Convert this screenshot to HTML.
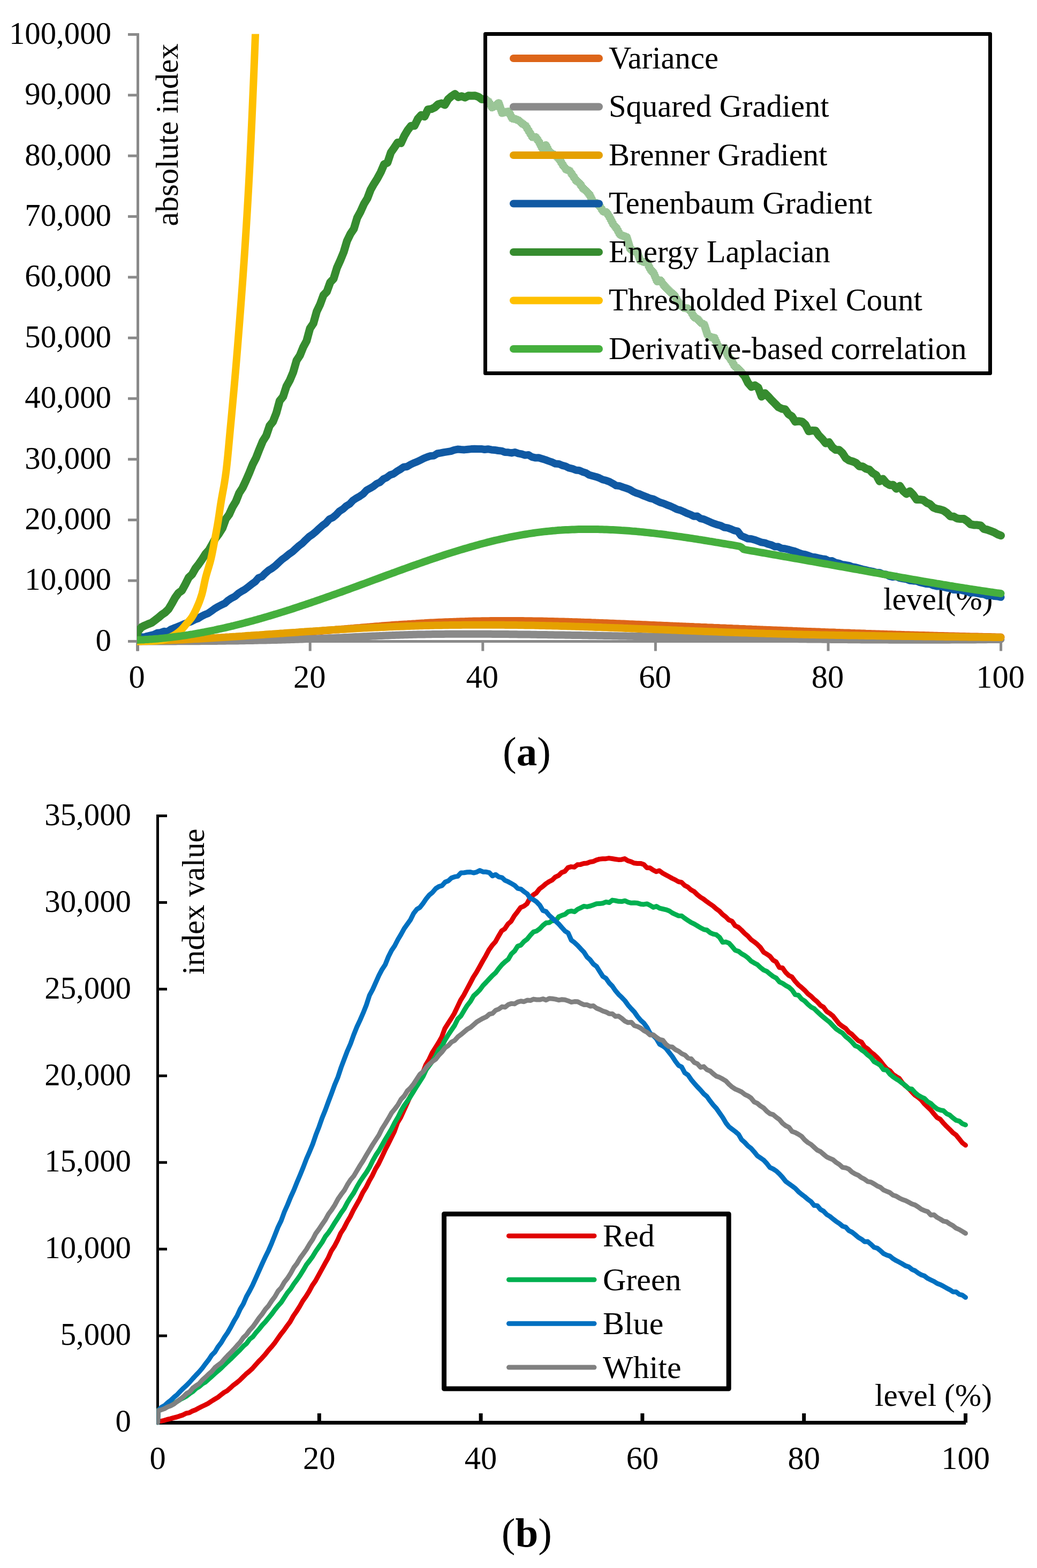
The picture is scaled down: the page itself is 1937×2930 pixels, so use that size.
<!DOCTYPE html><html><head><meta charset="utf-8"><title>Figure</title>
<style>html,body{margin:0;padding:0;background:#fff;overflow:hidden}svg{display:block}</style></head><body>
<svg width="1937" height="2930" viewBox="0 0 1937 2930" font-family="'Liberation Serif', 'Times New Roman', serif">
<rect width="1937" height="2930" fill="#fff"/>
<defs><clipPath id="ca"><rect x="256" y="63.5" width="1680" height="1170"/></clipPath><pattern id="dith" width="2" height="2" patternUnits="userSpaceOnUse"><rect width="1" height="1" fill="#fff" shape-rendering="crispEdges"/><rect x="1" y="1" width="1" height="1" fill="#fff" shape-rendering="crispEdges"/></pattern><clipPath id="cb"><rect x="292.5" y="1480" width="1640" height="1182.7"/></clipPath></defs>
<g stroke="#8A8A8A" stroke-width="5" fill="none">
<path d="M257.5,62 V1216.5"/>
<path d="M255,1198.4 H1872"/>
<path d="M239,64.4 H257.5"/>
<path d="M239,177.8 H257.5"/>
<path d="M239,291.2 H257.5"/>
<path d="M239,404.6 H257.5"/>
<path d="M239,518.0 H257.5"/>
<path d="M239,631.4 H257.5"/>
<path d="M239,744.8 H257.5"/>
<path d="M239,858.2 H257.5"/>
<path d="M239,971.6 H257.5"/>
<path d="M239,1085.0 H257.5"/>
<path d="M239,1198.4 H257.5"/>
<path d="M256.6,1198.4 V1216.5"/>
<path d="M579.2,1198.4 V1216.5"/>
<path d="M901.8,1198.4 V1216.5"/>
<path d="M1224.4,1198.4 V1216.5"/>
<path d="M1547.0,1198.4 V1216.5"/>
<path d="M1869.6,1198.4 V1216.5"/>
</g>
<g font-size="58.8" fill="#000" text-anchor="end">
<text x="208" y="81.7">100,000</text>
<text x="208" y="195.1">90,000</text>
<text x="208" y="308.5">80,000</text>
<text x="208" y="421.9">70,000</text>
<text x="208" y="535.3">60,000</text>
<text x="208" y="648.7">50,000</text>
<text x="208" y="762.1">40,000</text>
<text x="208" y="875.5">30,000</text>
<text x="208" y="988.9">20,000</text>
<text x="208" y="1102.3">10,000</text>
<text x="208" y="1215.7">0</text>
</g>
<g font-size="60.5" fill="#000" text-anchor="middle">
<text x="255.6" y="1285">0</text>
<text x="578.2" y="1285">20</text>
<text x="900.8" y="1285">40</text>
<text x="1223.4" y="1285">60</text>
<text x="1546.0" y="1285">80</text>
<text x="1868.6" y="1285">100</text>
</g>
<text font-size="58.8" transform="translate(331.5,251.9) rotate(-90)" text-anchor="middle">absolute index</text>
<text font-size="59.4" x="1650" y="1138.5">level(%)</text>
<g clip-path="url(#ca)" fill="none" stroke-width="14" stroke-linecap="round" stroke-linejoin="round">
<path stroke="#DD6519" d="M256.0,1198.3 260.0,1198.2 264.0,1198.1 268.0,1198.0 272.0,1197.9 276.0,1197.8 280.0,1197.7 284.0,1197.6 288.0,1197.5 292.0,1197.3 296.0,1197.2 300.0,1197.1 304.0,1197.0 308.0,1196.8 312.1,1196.7 316.1,1196.5 320.1,1196.4 324.1,1196.3 328.1,1196.1 332.1,1195.9 336.1,1195.8 340.1,1195.6 344.1,1195.5 348.1,1195.3 352.1,1195.1 356.1,1194.9 360.1,1194.8 364.1,1194.6 368.1,1194.4 372.1,1194.2 376.1,1194.0 380.1,1193.8 384.1,1193.6 388.1,1193.4 392.1,1193.2 396.1,1193.0 400.1,1192.8 404.1,1192.6 408.1,1192.4 412.1,1192.1 416.1,1191.9 420.2,1191.7 424.2,1191.5 428.2,1191.2 432.2,1191.0 436.2,1190.8 440.2,1190.5 444.2,1190.3 448.2,1190.0 452.2,1189.8 456.2,1189.5 460.2,1189.3 464.2,1189.0 468.2,1188.8 472.2,1188.5 476.2,1188.2 480.2,1188.0 484.2,1187.7 488.2,1187.4 492.2,1187.2 496.2,1186.9 500.2,1186.6 504.2,1186.3 508.2,1186.0 512.2,1185.8 516.2,1185.5 520.2,1185.2 524.2,1184.9 528.3,1184.6 532.3,1184.3 536.3,1184.0 540.3,1183.7 544.3,1183.4 548.3,1183.1 552.3,1182.8 556.3,1182.5 560.3,1182.2 564.3,1181.8 568.3,1181.5 572.3,1181.2 576.3,1180.9 580.3,1180.6 584.3,1180.3 588.3,1179.9 592.3,1179.6 596.3,1179.3 600.3,1178.9 604.3,1178.6 608.3,1178.3 612.3,1177.9 616.3,1177.6 620.3,1177.3 624.3,1176.9 628.3,1176.6 632.3,1176.3 636.4,1175.9 640.4,1175.6 644.4,1175.2 648.4,1174.9 652.4,1174.6 656.4,1174.2 660.4,1173.9 664.4,1173.5 668.4,1173.2 672.4,1172.9 676.4,1172.5 680.4,1172.2 684.4,1171.9 688.4,1171.6 692.4,1171.2 696.4,1170.9 700.4,1170.6 704.4,1170.3 708.4,1170.0 712.4,1169.6 716.4,1169.3 720.4,1169.0 724.4,1168.7 728.4,1168.4 732.4,1168.1 736.4,1167.8 740.5,1167.5 744.5,1167.3 748.5,1167.0 752.5,1166.7 756.5,1166.4 760.5,1166.2 764.5,1165.9 768.5,1165.7 772.5,1165.4 776.5,1165.2 780.5,1164.9 784.5,1164.7 788.5,1164.5 792.5,1164.3 796.5,1164.0 800.5,1163.8 804.5,1163.6 808.5,1163.4 812.5,1163.2 816.5,1163.0 820.5,1162.8 824.5,1162.7 828.5,1162.5 832.5,1162.3 836.5,1162.2 840.5,1162.0 844.5,1161.9 848.6,1161.7 852.6,1161.6 856.6,1161.4 860.6,1161.3 864.6,1161.2 868.6,1161.1 872.6,1160.9 876.6,1160.8 880.6,1160.7 884.6,1160.6 888.6,1160.6 892.6,1160.5 896.6,1160.4 900.6,1160.3 904.6,1160.3 908.6,1160.2 912.6,1160.2 916.6,1160.1 920.6,1160.1 924.6,1160.0 928.6,1160.0 932.6,1160.0 936.6,1160.0 940.6,1160.0 944.6,1160.0 948.6,1160.0 952.6,1160.0 956.7,1160.0 960.7,1160.0 964.7,1160.0 968.7,1160.0 972.7,1160.1 976.7,1160.1 980.7,1160.2 984.7,1160.2 988.7,1160.2 992.7,1160.3 996.7,1160.4 1000.7,1160.4 1004.7,1160.5 1008.7,1160.6 1012.7,1160.6 1016.7,1160.7 1020.7,1160.8 1024.7,1160.9 1028.7,1161.0 1032.7,1161.1 1036.7,1161.2 1040.7,1161.3 1044.7,1161.4 1048.7,1161.5 1052.7,1161.6 1056.7,1161.7 1060.7,1161.8 1064.8,1161.9 1068.8,1162.1 1072.8,1162.2 1076.8,1162.3 1080.8,1162.4 1084.8,1162.6 1088.8,1162.7 1092.8,1162.9 1096.8,1163.0 1100.8,1163.1 1104.8,1163.3 1108.8,1163.4 1112.8,1163.6 1116.8,1163.7 1120.8,1163.9 1124.8,1164.0 1128.8,1164.2 1132.8,1164.3 1136.8,1164.5 1140.8,1164.7 1144.8,1164.8 1148.8,1165.0 1152.8,1165.2 1156.8,1165.3 1160.8,1165.5 1164.8,1165.6 1168.8,1165.8 1172.9,1166.0 1176.9,1166.2 1180.9,1166.3 1184.9,1166.5 1188.9,1166.7 1192.9,1166.8 1196.9,1167.0 1200.9,1167.2 1204.9,1167.3 1208.9,1167.5 1212.9,1167.7 1216.9,1167.9 1220.9,1168.0 1224.9,1168.2 1228.9,1168.4 1232.9,1168.5 1236.9,1168.7 1240.9,1168.9 1244.9,1169.0 1248.9,1169.2 1252.9,1169.4 1256.9,1169.6 1260.9,1169.7 1264.9,1169.9 1268.9,1170.1 1272.9,1170.2 1276.9,1170.4 1281.0,1170.6 1285.0,1170.7 1289.0,1170.9 1293.0,1171.1 1297.0,1171.3 1301.0,1171.4 1305.0,1171.6 1309.0,1171.8 1313.0,1171.9 1317.0,1172.1 1321.0,1172.3 1325.0,1172.4 1329.0,1172.6 1333.0,1172.8 1337.0,1172.9 1341.0,1173.1 1345.0,1173.3 1349.0,1173.4 1353.0,1173.6 1357.0,1173.8 1361.0,1173.9 1365.0,1174.1 1369.0,1174.3 1373.0,1174.4 1377.0,1174.6 1381.0,1174.8 1385.0,1174.9 1389.1,1175.1 1393.1,1175.3 1397.1,1175.4 1401.1,1175.6 1405.1,1175.8 1409.1,1175.9 1413.1,1176.1 1417.1,1176.2 1421.1,1176.4 1425.1,1176.6 1429.1,1176.7 1433.1,1176.9 1437.1,1177.0 1441.1,1177.2 1445.1,1177.4 1449.1,1177.5 1453.1,1177.7 1457.1,1177.8 1461.1,1178.0 1465.1,1178.2 1469.1,1178.3 1473.1,1178.5 1477.1,1178.6 1481.1,1178.8 1485.1,1178.9 1489.1,1179.1 1493.2,1179.2 1497.2,1179.4 1501.2,1179.6 1505.2,1179.7 1509.2,1179.9 1513.2,1180.0 1517.2,1180.2 1521.2,1180.3 1525.2,1180.5 1529.2,1180.6 1533.2,1180.8 1537.2,1180.9 1541.2,1181.1 1545.2,1181.2 1549.2,1181.4 1553.2,1181.5 1557.2,1181.6 1561.2,1181.8 1565.2,1181.9 1569.2,1182.1 1573.2,1182.2 1577.2,1182.4 1581.2,1182.5 1585.2,1182.6 1589.2,1182.8 1593.2,1182.9 1597.2,1183.1 1601.3,1183.2 1605.3,1183.3 1609.3,1183.5 1613.3,1183.6 1617.3,1183.8 1621.3,1183.9 1625.3,1184.0 1629.3,1184.2 1633.3,1184.3 1637.3,1184.4 1641.3,1184.5 1645.3,1184.7 1649.3,1184.8 1653.3,1184.9 1657.3,1185.1 1661.3,1185.2 1665.3,1185.3 1669.3,1185.4 1673.3,1185.6 1677.3,1185.7 1681.3,1185.8 1685.3,1185.9 1689.3,1186.1 1693.3,1186.2 1697.3,1186.3 1701.3,1186.4 1705.3,1186.5 1709.4,1186.7 1713.4,1186.8 1717.4,1186.9 1721.4,1187.0 1725.4,1187.1 1729.4,1187.2 1733.4,1187.3 1737.4,1187.5 1741.4,1187.6 1745.4,1187.7 1749.4,1187.8 1753.4,1187.9 1757.4,1188.0 1761.4,1188.1 1765.4,1188.2 1769.4,1188.3 1773.4,1188.4 1777.4,1188.5 1781.4,1188.6 1785.4,1188.7 1789.4,1188.8 1793.4,1188.9 1797.4,1189.0 1801.4,1189.1 1805.4,1189.2 1809.4,1189.3 1813.4,1189.4 1817.5,1189.5 1821.5,1189.5 1825.5,1189.6 1829.5,1189.7 1833.5,1189.8 1837.5,1189.9 1841.5,1190.0 1845.5,1190.1 1849.5,1190.1 1853.5,1190.2 1857.5,1190.3 1861.5,1190.4 1865.5,1190.5 1869.5,1190.5"/>
<path stroke="#8A8A8A" d="M256.0,1198.4 260.0,1198.4 264.0,1198.4 268.0,1198.4 272.0,1198.4 276.0,1198.4 280.0,1198.4 284.0,1198.4 288.0,1198.4 292.0,1198.4 296.0,1198.4 300.0,1198.4 304.0,1198.4 308.0,1198.4 312.1,1198.4 316.1,1198.4 320.1,1198.4 324.1,1198.4 328.1,1198.4 332.1,1198.3 336.1,1198.3 340.1,1198.3 344.1,1198.3 348.1,1198.3 352.1,1198.3 356.1,1198.2 360.1,1198.2 364.1,1198.2 368.1,1198.2 372.1,1198.2 376.1,1198.1 380.1,1198.1 384.1,1198.1 388.1,1198.0 392.1,1198.0 396.1,1198.0 400.1,1197.9 404.1,1197.9 408.1,1197.8 412.1,1197.8 416.1,1197.7 420.2,1197.7 424.2,1197.6 428.2,1197.6 432.2,1197.5 436.2,1197.5 440.2,1197.4 444.2,1197.4 448.2,1197.3 452.2,1197.2 456.2,1197.2 460.2,1197.1 464.2,1197.0 468.2,1197.0 472.2,1196.9 476.2,1196.8 480.2,1196.7 484.2,1196.6 488.2,1196.6 492.2,1196.5 496.2,1196.4 500.2,1196.3 504.2,1196.2 508.2,1196.1 512.2,1196.0 516.2,1195.9 520.2,1195.8 524.2,1195.7 528.3,1195.6 532.3,1195.4 536.3,1195.3 540.3,1195.2 544.3,1195.1 548.3,1195.0 552.3,1194.8 556.3,1194.7 560.3,1194.6 564.3,1194.4 568.3,1194.3 572.3,1194.1 576.3,1194.0 580.3,1193.8 584.3,1193.7 588.3,1193.5 592.3,1193.4 596.3,1193.2 600.3,1193.0 604.3,1192.9 608.3,1192.7 612.3,1192.5 616.3,1192.3 620.3,1192.2 624.3,1192.0 628.3,1191.8 632.3,1191.6 636.4,1191.4 640.4,1191.2 644.4,1191.0 648.4,1190.9 652.4,1190.7 656.4,1190.5 660.4,1190.3 664.4,1190.1 668.4,1189.9 672.4,1189.7 676.4,1189.5 680.4,1189.3 684.4,1189.2 688.4,1189.0 692.4,1188.8 696.4,1188.6 700.4,1188.4 704.4,1188.2 708.4,1188.1 712.4,1187.9 716.4,1187.7 720.4,1187.6 724.4,1187.4 728.4,1187.2 732.4,1187.1 736.4,1186.9 740.5,1186.8 744.5,1186.7 748.5,1186.5 752.5,1186.4 756.5,1186.3 760.5,1186.2 764.5,1186.0 768.5,1185.9 772.5,1185.8 776.5,1185.7 780.5,1185.6 784.5,1185.5 788.5,1185.5 792.5,1185.4 796.5,1185.3 800.5,1185.2 804.5,1185.2 808.5,1185.1 812.5,1185.1 816.5,1185.0 820.5,1185.0 824.5,1184.9 828.5,1184.9 832.5,1184.8 836.5,1184.8 840.5,1184.8 844.5,1184.7 848.6,1184.7 852.6,1184.7 856.6,1184.7 860.6,1184.7 864.6,1184.7 868.6,1184.7 872.6,1184.7 876.6,1184.7 880.6,1184.7 884.6,1184.7 888.6,1184.7 892.6,1184.7 896.6,1184.7 900.6,1184.7 904.6,1184.8 908.6,1184.8 912.6,1184.8 916.6,1184.8 920.6,1184.9 924.6,1184.9 928.6,1184.9 932.6,1185.0 936.6,1185.0 940.6,1185.0 944.6,1185.1 948.6,1185.1 952.6,1185.2 956.7,1185.2 960.7,1185.3 964.7,1185.3 968.7,1185.4 972.7,1185.4 976.7,1185.5 980.7,1185.5 984.7,1185.6 988.7,1185.6 992.7,1185.7 996.7,1185.8 1000.7,1185.8 1004.7,1185.9 1008.7,1185.9 1012.7,1186.0 1016.7,1186.0 1020.7,1186.1 1024.7,1186.2 1028.7,1186.2 1032.7,1186.3 1036.7,1186.4 1040.7,1186.4 1044.7,1186.5 1048.7,1186.5 1052.7,1186.6 1056.7,1186.7 1060.7,1186.7 1064.8,1186.8 1068.8,1186.9 1072.8,1186.9 1076.8,1187.0 1080.8,1187.1 1084.8,1187.1 1088.8,1187.2 1092.8,1187.3 1096.8,1187.3 1100.8,1187.4 1104.8,1187.5 1108.8,1187.6 1112.8,1187.6 1116.8,1187.7 1120.8,1187.8 1124.8,1187.8 1128.8,1187.9 1132.8,1188.0 1136.8,1188.0 1140.8,1188.1 1144.8,1188.2 1148.8,1188.3 1152.8,1188.3 1156.8,1188.4 1160.8,1188.5 1164.8,1188.6 1168.8,1188.6 1172.9,1188.7 1176.9,1188.8 1180.9,1188.8 1184.9,1188.9 1188.9,1189.0 1192.9,1189.1 1196.9,1189.1 1200.9,1189.2 1204.9,1189.3 1208.9,1189.4 1212.9,1189.4 1216.9,1189.5 1220.9,1189.6 1224.9,1189.7 1228.9,1189.7 1232.9,1189.8 1236.9,1189.9 1240.9,1190.0 1244.9,1190.0 1248.9,1190.1 1252.9,1190.2 1256.9,1190.2 1260.9,1190.3 1264.9,1190.4 1268.9,1190.5 1272.9,1190.5 1276.9,1190.6 1281.0,1190.7 1285.0,1190.8 1289.0,1190.8 1293.0,1190.9 1297.0,1191.0 1301.0,1191.1 1305.0,1191.1 1309.0,1191.2 1313.0,1191.3 1317.0,1191.3 1321.0,1191.4 1325.0,1191.5 1329.0,1191.6 1333.0,1191.6 1337.0,1191.7 1341.0,1191.8 1345.0,1191.8 1349.0,1191.9 1353.0,1192.0 1357.0,1192.1 1361.0,1192.1 1365.0,1192.2 1369.0,1192.3 1373.0,1192.3 1377.0,1192.4 1381.0,1192.5 1385.0,1192.5 1389.1,1192.6 1393.1,1192.7 1397.1,1192.7 1401.1,1192.8 1405.1,1192.9 1409.1,1192.9 1413.1,1193.0 1417.1,1193.0 1421.1,1193.1 1425.1,1193.2 1429.1,1193.2 1433.1,1193.3 1437.1,1193.4 1441.1,1193.4 1445.1,1193.5 1449.1,1193.5 1453.1,1193.6 1457.1,1193.7 1461.1,1193.7 1465.1,1193.8 1469.1,1193.8 1473.1,1193.9 1477.1,1193.9 1481.1,1194.0 1485.1,1194.0 1489.1,1194.1 1493.2,1194.2 1497.2,1194.2 1501.2,1194.3 1505.2,1194.3 1509.2,1194.4 1513.2,1194.4 1517.2,1194.5 1521.2,1194.5 1525.2,1194.6 1529.2,1194.6 1533.2,1194.6 1537.2,1194.7 1541.2,1194.7 1545.2,1194.8 1549.2,1194.8 1553.2,1194.9 1557.2,1194.9 1561.2,1194.9 1565.2,1195.0 1569.2,1195.0 1573.2,1195.1 1577.2,1195.1 1581.2,1195.1 1585.2,1195.2 1589.2,1195.2 1593.2,1195.2 1597.2,1195.3 1601.3,1195.3 1605.3,1195.3 1609.3,1195.4 1613.3,1195.4 1617.3,1195.4 1621.3,1195.4 1625.3,1195.5 1629.3,1195.5 1633.3,1195.5 1637.3,1195.5 1641.3,1195.6 1645.3,1195.6 1649.3,1195.6 1653.3,1195.6 1657.3,1195.6 1661.3,1195.7 1665.3,1195.7 1669.3,1195.7 1673.3,1195.7 1677.3,1195.7 1681.3,1195.7 1685.3,1195.7 1689.3,1195.7 1693.3,1195.8 1697.3,1195.8 1701.3,1195.8 1705.3,1195.8 1709.4,1195.8 1713.4,1195.8 1717.4,1195.8 1721.4,1195.8 1725.4,1195.8 1729.4,1195.8 1733.4,1195.8 1737.4,1195.8 1741.4,1195.8 1745.4,1195.8 1749.4,1195.7 1753.4,1195.7 1757.4,1195.7 1761.4,1195.7 1765.4,1195.7 1769.4,1195.7 1773.4,1195.7 1777.4,1195.6 1781.4,1195.6 1785.4,1195.6 1789.4,1195.6 1793.4,1195.6 1797.4,1195.5 1801.4,1195.5 1805.4,1195.5 1809.4,1195.4 1813.4,1195.4 1817.5,1195.4 1821.5,1195.4 1825.5,1195.3 1829.5,1195.3 1833.5,1195.2 1837.5,1195.2 1841.5,1195.2 1845.5,1195.1 1849.5,1195.1 1853.5,1195.0 1857.5,1195.0 1861.5,1194.9 1865.5,1194.9 1869.5,1194.8"/>
<path stroke="#E5A000" d="M256.0,1198.4 260.0,1198.3 264.0,1198.2 268.0,1198.1 272.0,1198.0 276.0,1197.9 280.0,1197.8 284.0,1197.7 288.0,1197.5 292.0,1197.4 296.0,1197.3 300.0,1197.1 304.0,1197.0 308.0,1196.8 312.1,1196.6 316.1,1196.5 320.1,1196.3 324.1,1196.1 328.1,1195.9 332.1,1195.7 336.1,1195.6 340.1,1195.4 344.1,1195.2 348.1,1195.0 352.1,1194.8 356.1,1194.6 360.1,1194.3 364.1,1194.1 368.1,1193.9 372.1,1193.7 376.1,1193.5 380.1,1193.2 384.1,1193.0 388.1,1192.8 392.1,1192.5 396.1,1192.3 400.1,1192.0 404.1,1191.8 408.1,1191.5 412.1,1191.3 416.1,1191.0 420.2,1190.8 424.2,1190.5 428.2,1190.3 432.2,1190.0 436.2,1189.7 440.2,1189.5 444.2,1189.2 448.2,1188.9 452.2,1188.7 456.2,1188.4 460.2,1188.1 464.2,1187.8 468.2,1187.6 472.2,1187.3 476.2,1187.0 480.2,1186.7 484.2,1186.5 488.2,1186.2 492.2,1185.9 496.2,1185.6 500.2,1185.3 504.2,1185.0 508.2,1184.8 512.2,1184.5 516.2,1184.2 520.2,1183.9 524.2,1183.6 528.3,1183.4 532.3,1183.1 536.3,1182.8 540.3,1182.5 544.3,1182.2 548.3,1181.9 552.3,1181.7 556.3,1181.4 560.3,1181.1 564.3,1180.8 568.3,1180.6 572.3,1180.3 576.3,1180.0 580.3,1179.7 584.3,1179.5 588.3,1179.2 592.3,1178.9 596.3,1178.7 600.3,1178.4 604.3,1178.1 608.3,1177.9 612.3,1177.6 616.3,1177.4 620.3,1177.1 624.3,1176.9 628.3,1176.6 632.3,1176.4 636.4,1176.1 640.4,1175.9 644.4,1175.7 648.4,1175.4 652.4,1175.2 656.4,1175.0 660.4,1174.7 664.4,1174.5 668.4,1174.3 672.4,1174.1 676.4,1173.8 680.4,1173.6 684.4,1173.4 688.4,1173.2 692.4,1173.0 696.4,1172.8 700.4,1172.6 704.4,1172.4 708.4,1172.2 712.4,1172.0 716.4,1171.9 720.4,1171.7 724.4,1171.5 728.4,1171.3 732.4,1171.2 736.4,1171.0 740.5,1170.8 744.5,1170.7 748.5,1170.5 752.5,1170.4 756.5,1170.2 760.5,1170.1 764.5,1170.0 768.5,1169.8 772.5,1169.7 776.5,1169.6 780.5,1169.4 784.5,1169.3 788.5,1169.2 792.5,1169.1 796.5,1169.0 800.5,1168.9 804.5,1168.8 808.5,1168.7 812.5,1168.6 816.5,1168.5 820.5,1168.5 824.5,1168.4 828.5,1168.3 832.5,1168.2 836.5,1168.2 840.5,1168.1 844.5,1168.1 848.6,1168.0 852.6,1168.0 856.6,1167.9 860.6,1167.9 864.6,1167.8 868.6,1167.8 872.6,1167.8 876.6,1167.8 880.6,1167.7 884.6,1167.7 888.6,1167.7 892.6,1167.7 896.6,1167.7 900.6,1167.7 904.6,1167.7 908.6,1167.7 912.6,1167.7 916.6,1167.7 920.6,1167.7 924.6,1167.7 928.6,1167.8 932.6,1167.8 936.6,1167.8 940.6,1167.8 944.6,1167.9 948.6,1167.9 952.6,1168.0 956.7,1168.0 960.7,1168.1 964.7,1168.1 968.7,1168.2 972.7,1168.2 976.7,1168.3 980.7,1168.4 984.7,1168.4 988.7,1168.5 992.7,1168.6 996.7,1168.6 1000.7,1168.7 1004.7,1168.8 1008.7,1168.9 1012.7,1169.0 1016.7,1169.1 1020.7,1169.2 1024.7,1169.2 1028.7,1169.3 1032.7,1169.4 1036.7,1169.5 1040.7,1169.6 1044.7,1169.8 1048.7,1169.9 1052.7,1170.0 1056.7,1170.1 1060.7,1170.2 1064.8,1170.3 1068.8,1170.4 1072.8,1170.6 1076.8,1170.7 1080.8,1170.8 1084.8,1170.9 1088.8,1171.1 1092.8,1171.2 1096.8,1171.3 1100.8,1171.5 1104.8,1171.6 1108.8,1171.7 1112.8,1171.9 1116.8,1172.0 1120.8,1172.1 1124.8,1172.3 1128.8,1172.4 1132.8,1172.6 1136.8,1172.7 1140.8,1172.9 1144.8,1173.0 1148.8,1173.2 1152.8,1173.3 1156.8,1173.5 1160.8,1173.6 1164.8,1173.8 1168.8,1173.9 1172.9,1174.1 1176.9,1174.2 1180.9,1174.4 1184.9,1174.6 1188.9,1174.7 1192.9,1174.9 1196.9,1175.0 1200.9,1175.2 1204.9,1175.3 1208.9,1175.5 1212.9,1175.7 1216.9,1175.8 1220.9,1176.0 1224.9,1176.2 1228.9,1176.3 1232.9,1176.5 1236.9,1176.6 1240.9,1176.8 1244.9,1177.0 1248.9,1177.1 1252.9,1177.3 1256.9,1177.5 1260.9,1177.6 1264.9,1177.8 1268.9,1177.9 1272.9,1178.1 1276.9,1178.3 1281.0,1178.4 1285.0,1178.6 1289.0,1178.8 1293.0,1178.9 1297.0,1179.1 1301.0,1179.2 1305.0,1179.4 1309.0,1179.5 1313.0,1179.7 1317.0,1179.9 1321.0,1180.0 1325.0,1180.2 1329.0,1180.3 1333.0,1180.5 1337.0,1180.6 1341.0,1180.8 1345.0,1180.9 1349.0,1181.1 1353.0,1181.2 1357.0,1181.4 1361.0,1181.5 1365.0,1181.7 1369.0,1181.8 1373.0,1181.9 1377.0,1182.1 1381.0,1182.2 1385.0,1182.4 1389.1,1182.5 1393.1,1182.6 1397.1,1182.8 1401.1,1182.9 1405.1,1183.0 1409.1,1183.2 1413.1,1183.3 1417.1,1183.4 1421.1,1183.5 1425.1,1183.6 1429.1,1183.8 1433.1,1183.9 1437.1,1184.0 1441.1,1184.1 1445.1,1184.2 1449.1,1184.3 1453.1,1184.5 1457.1,1184.6 1461.1,1184.7 1465.1,1184.8 1469.1,1184.9 1473.1,1185.0 1477.1,1185.1 1481.1,1185.2 1485.1,1185.3 1489.1,1185.4 1493.2,1185.5 1497.2,1185.6 1501.2,1185.7 1505.2,1185.8 1509.2,1185.8 1513.2,1185.9 1517.2,1186.0 1521.2,1186.1 1525.2,1186.2 1529.2,1186.3 1533.2,1186.4 1537.2,1186.4 1541.2,1186.5 1545.2,1186.6 1549.2,1186.7 1553.2,1186.8 1557.2,1186.8 1561.2,1186.9 1565.2,1187.0 1569.2,1187.1 1573.2,1187.1 1577.2,1187.2 1581.2,1187.3 1585.2,1187.4 1589.2,1187.4 1593.2,1187.5 1597.2,1187.6 1601.3,1187.6 1605.3,1187.7 1609.3,1187.8 1613.3,1187.8 1617.3,1187.9 1621.3,1188.0 1625.3,1188.0 1629.3,1188.1 1633.3,1188.1 1637.3,1188.2 1641.3,1188.3 1645.3,1188.3 1649.3,1188.4 1653.3,1188.4 1657.3,1188.5 1661.3,1188.6 1665.3,1188.6 1669.3,1188.7 1673.3,1188.7 1677.3,1188.8 1681.3,1188.8 1685.3,1188.9 1689.3,1188.9 1693.3,1189.0 1697.3,1189.0 1701.3,1189.1 1705.3,1189.1 1709.4,1189.2 1713.4,1189.2 1717.4,1189.3 1721.4,1189.3 1725.4,1189.4 1729.4,1189.4 1733.4,1189.5 1737.4,1189.5 1741.4,1189.6 1745.4,1189.6 1749.4,1189.7 1753.4,1189.7 1757.4,1189.8 1761.4,1189.8 1765.4,1189.9 1769.4,1189.9 1773.4,1190.0 1777.4,1190.0 1781.4,1190.1 1785.4,1190.1 1789.4,1190.1 1793.4,1190.2 1797.4,1190.2 1801.4,1190.3 1805.4,1190.3 1809.4,1190.4 1813.4,1190.4 1817.5,1190.5 1821.5,1190.5 1825.5,1190.6 1829.5,1190.6 1833.5,1190.7 1837.5,1190.7 1841.5,1190.7 1845.5,1190.8 1849.5,1190.8 1853.5,1190.9 1857.5,1190.9 1861.5,1191.0 1865.5,1191.0 1869.5,1191.1"/>
<path stroke="#1059A3" stroke-width="14" d="M256.0,1192.9 262.3,1190.0 268.6,1190.8 274.9,1188.7 281.2,1187.2 287.5,1185.8 293.8,1182.7 300.1,1182.1 306.4,1179.7 312.7,1180.6 319.0,1176.3 325.3,1173.6 331.6,1171.3 337.9,1168.6 344.2,1165.8 350.5,1163.6 356.8,1161.5 363.1,1158.2 369.4,1156.0 375.8,1152.0 382.1,1148.8 388.4,1146.3 394.7,1141.9 401.0,1137.3 407.3,1133.7 413.6,1130.3 419.9,1127.4 426.2,1121.8 432.5,1117.7 438.8,1114.5 445.1,1108.9 451.4,1104.9 457.7,1101.3 464.0,1096.5 470.3,1091.5 476.6,1087.1 482.9,1079.8 489.2,1077.6 495.5,1071.2 501.8,1065.7 508.1,1061.9 514.4,1057.1 520.7,1051.1 527.0,1045.4 533.3,1040.9 539.6,1035.6 545.9,1031.3 552.2,1025.5 558.5,1019.8 564.8,1015.1 571.1,1008.8 577.4,1002.9 583.7,998.6 590.0,993.3 596.3,987.4 602.7,981.7 609.0,977.2 615.3,970.0 621.6,967.1 627.9,961.8 634.2,955.2 640.5,951.3 646.8,945.5 653.1,941.8 659.4,935.0 665.7,930.9 672.0,927.3 678.3,923.0 684.6,916.1 690.9,912.7 697.2,908.9 703.5,903.9 709.8,901.3 716.1,895.2 722.4,892.3 728.7,887.5 735.0,885.5 741.3,880.8 747.6,877.1 753.9,872.8 760.2,872.0 766.5,868.3 772.8,865.3 779.1,862.8 785.4,859.7 791.7,856.5 798.0,854.0 804.3,851.9 810.6,851.4 816.9,847.5 823.2,846.4 829.5,845.1 835.9,844.1 842.2,843.1 848.5,840.8 854.8,839.6 861.1,840.1 867.4,840.4 873.7,839.7 880.0,839.1 886.3,838.7 892.6,839.1 898.9,838.9 905.2,840.0 911.5,839.2 917.8,840.4 924.1,840.9 930.4,842.0 936.7,842.6 943.0,845.1 949.3,845.3 955.6,846.4 961.9,845.0 968.2,847.4 974.5,848.5 980.8,850.6 987.1,850.0 993.4,853.9 999.7,855.4 1006.0,855.3 1012.3,857.2 1018.6,859.1 1024.9,861.5 1031.2,863.7 1037.5,866.6 1043.8,866.9 1050.1,869.6 1056.4,871.2 1062.8,874.4 1069.1,875.8 1075.4,878.4 1081.7,878.9 1088.0,881.7 1094.3,883.6 1100.6,887.5 1106.9,889.2 1113.2,890.9 1119.5,893.2 1125.8,896.2 1132.1,897.8 1138.4,900.1 1144.7,903.6 1151.0,907.4 1157.3,908.0 1163.6,910.3 1169.9,912.4 1176.2,914.8 1182.5,918.6 1188.8,921.4 1195.1,923.3 1201.4,926.1 1207.7,928.5 1214.0,931.1 1220.3,932.5 1226.6,935.7 1232.9,938.7 1239.2,940.6 1245.5,943.3 1251.8,945.6 1258.1,948.5 1264.4,951.8 1270.7,953.4 1277.0,956.1 1283.3,959.2 1289.6,961.5 1296.0,964.7 1302.3,964.5 1308.6,968.9 1314.9,970.3 1321.2,973.1 1327.5,975.9 1333.8,978.4 1340.1,980.6 1346.4,982.3 1352.7,985.5 1359.0,986.4 1365.3,988.6 1371.6,991.4 1377.9,992.6 1384.2,1001.1 1390.5,1003.7 1396.8,1006.6 1403.1,1007.0 1409.4,1008.7 1415.7,1011.0 1422.0,1013.3 1428.3,1014.3 1434.6,1016.8 1440.9,1018.4 1447.2,1021.4 1453.5,1021.6 1459.8,1024.6 1466.1,1025.2 1472.4,1026.7 1478.7,1028.7 1485.0,1030.1 1491.3,1032.7 1497.6,1035.1 1503.9,1036.2 1510.2,1038.2 1516.5,1040.6 1522.8,1041.3 1529.2,1042.9 1535.5,1044.2 1541.8,1045.0 1548.1,1048.3 1554.4,1048.1 1560.7,1051.5 1567.0,1052.6 1573.3,1055.0 1579.6,1055.8 1585.9,1056.9 1592.2,1059.3 1598.5,1060.2 1604.8,1062.0 1611.1,1063.8 1617.4,1065.2 1623.7,1066.7 1630.0,1067.8 1636.3,1069.7 1642.6,1069.9 1648.9,1072.7 1655.2,1073.5 1661.5,1076.6 1667.8,1078.1 1674.1,1077.3 1680.4,1080.2 1686.7,1081.4 1693.0,1082.2 1699.3,1084.7 1705.6,1085.4 1711.9,1085.8 1718.2,1088.2 1724.5,1089.6 1730.8,1091.1 1737.1,1091.4 1743.4,1094.0 1749.7,1095.4 1756.1,1095.3 1762.4,1096.9 1768.7,1098.5 1775.0,1099.3 1781.3,1102.1 1787.6,1102.2 1793.9,1102.5 1800.2,1103.8 1806.5,1105.4 1812.8,1108.1 1819.1,1107.4 1825.4,1108.7 1831.7,1110.0 1838.0,1110.6 1844.3,1113.2 1850.6,1112.2 1856.9,1114.0 1863.2,1114.5 1869.5,1115.8"/>
<path stroke="#368C2F" stroke-width="15" d="M256.0,1189.0 257.0,1180.0 258.0,1179.4 264.3,1172.0 270.6,1168.8 276.9,1166.1 283.2,1163.8 289.5,1159.1 295.8,1154.2 302.1,1148.8 308.4,1144.5 314.7,1138.4 320.9,1128.0 327.2,1116.7 333.5,1108.0 339.8,1103.4 346.1,1091.9 352.4,1079.3 358.7,1073.4 365.0,1062.2 371.3,1054.1 377.6,1045.0 383.9,1035.1 390.2,1028.1 396.5,1016.8 402.8,1005.4 409.1,997.1 415.4,987.1 421.7,969.9 428.0,961.4 434.3,947.5 440.6,937.0 446.8,921.3 453.1,911.5 459.4,898.0 465.7,883.6 472.0,867.7 478.3,855.5 484.6,839.3 490.9,824.2 497.2,814.3 503.5,795.8 509.8,788.0 516.1,772.1 522.4,749.0 528.7,741.3 535.0,722.0 541.3,710.7 547.6,695.6 553.9,673.7 560.2,664.1 566.5,648.5 572.7,637.0 579.0,613.7 585.3,604.4 591.6,581.9 597.9,568.8 604.2,551.5 610.5,545.0 616.8,527.6 623.1,520.9 629.4,500.4 635.7,486.4 642.0,471.0 648.3,449.9 654.6,436.9 660.9,427.8 667.2,406.8 673.5,395.3 679.8,381.2 686.1,370.9 692.3,354.5 698.6,343.4 704.9,333.4 711.2,321.7 717.5,307.0 723.8,304.0 730.1,285.0 736.4,275.9 742.7,266.5 749.0,267.4 755.3,253.6 761.6,243.2 767.9,235.2 774.2,235.0 780.5,222.1 786.8,215.1 793.1,217.7 799.4,204.6 805.7,203.7 812.0,200.7 818.2,194.9 824.5,193.1 830.8,196.1 837.1,185.4 843.4,179.9 849.7,175.6 856.0,181.4 862.3,179.8 868.6,182.1 874.9,178.8 881.2,179.1 887.5,178.8 893.8,181.0 900.1,185.6 906.4,185.3 912.7,190.0 919.0,200.8 925.3,197.9 931.6,192.6 937.9,211.1 944.1,209.4 950.4,208.4 956.7,221.4 963.0,222.7 969.3,225.4 975.6,230.9 981.9,235.2 988.2,245.6 994.5,256.0 1000.8,256.2 1007.1,265.6 1013.4,278.1 1019.7,271.3 1026.0,283.9 1032.3,287.8 1038.6,291.0 1044.9,297.6 1051.2,308.2 1057.5,316.5 1063.8,319.1 1070.0,328.1 1076.3,337.5 1082.6,342.5 1088.9,351.7 1095.2,357.1 1101.5,364.3 1107.8,377.0 1114.1,379.5 1120.4,385.2 1126.7,395.2 1133.0,396.6 1139.3,406.9 1145.6,419.4 1151.9,426.9 1158.2,438.6 1164.5,440.8 1170.8,443.3 1177.1,464.6 1183.4,469.5 1189.6,469.4 1195.9,486.7 1202.2,489.5 1208.5,490.4 1214.8,503.3 1221.1,510.5 1227.4,525.7 1233.7,524.1 1240.0,533.0 1246.3,539.8 1252.6,546.1 1258.9,550.7 1265.2,561.3 1271.5,570.7 1277.8,575.4 1284.1,576.2 1290.4,581.8 1296.7,592.7 1303.0,596.3 1309.3,603.2 1315.5,606.5 1321.8,626.2 1328.1,630.1 1334.4,631.3 1340.7,645.5 1347.0,654.9 1353.3,650.4 1359.6,664.5 1365.9,672.9 1372.2,684.1 1378.5,689.0 1384.8,695.8 1391.1,703.2 1397.4,715.8 1403.7,722.9 1410.0,720.1 1416.3,724.3 1422.6,741.1 1428.9,734.7 1435.2,741.0 1441.4,747.9 1447.7,754.2 1454.0,760.8 1460.3,763.8 1466.6,764.9 1472.9,774.0 1479.2,778.1 1485.5,787.9 1491.8,787.0 1498.1,787.9 1504.4,793.6 1510.7,805.8 1517.0,804.6 1523.3,804.7 1529.6,813.9 1535.9,820.2 1542.2,828.2 1548.5,826.4 1554.8,835.8 1561.0,840.6 1567.3,840.7 1573.6,846.5 1579.9,856.3 1586.2,860.4 1592.5,862.2 1598.8,864.9 1605.1,871.2 1611.4,871.8 1617.7,875.9 1624.0,877.8 1630.3,884.1 1636.6,887.7 1642.9,899.2 1649.2,895.0 1655.5,902.6 1661.8,906.4 1668.1,906.1 1674.4,913.2 1680.7,908.0 1686.9,917.4 1693.2,922.9 1699.5,917.9 1705.8,924.5 1712.1,933.4 1718.4,933.4 1724.7,934.5 1731.0,939.5 1737.3,942.2 1743.6,948.5 1749.9,950.9 1756.2,952.1 1762.5,954.1 1768.8,958.5 1775.1,964.8 1781.4,965.3 1787.7,968.8 1794.0,969.6 1800.3,969.6 1806.6,973.7 1812.8,979.6 1819.1,980.9 1825.4,981.1 1831.7,982.0 1838.0,988.5 1844.3,989.9 1850.6,992.3 1856.9,994.7 1863.2,998.4 1869.5,1000.7"/>
<path stroke="#FFC000" stroke-width="14" d="M256.0,1198.4 257.5,1198.4 259.0,1198.4 260.5,1198.4 262.0,1198.4 263.5,1198.4 265.0,1198.3 266.5,1198.3 268.0,1198.3 269.5,1198.3 271.0,1198.2 272.5,1198.2 274.0,1198.2 275.5,1198.1 277.0,1198.1 278.5,1198.0 280.0,1198.0 281.5,1197.9 283.0,1197.9 284.5,1197.8 286.0,1197.7 287.5,1197.7 289.0,1197.6 290.5,1197.5 292.0,1197.4 293.5,1197.3 295.0,1197.1 296.5,1196.9 298.0,1196.6 299.5,1196.4 301.0,1196.0 302.5,1195.7 304.0,1195.3 305.5,1194.9 307.0,1194.5 308.5,1194.0 310.0,1193.6 311.5,1193.2 313.0,1192.7 314.5,1192.2 316.0,1191.6 317.5,1190.9 319.0,1190.2 320.5,1189.5 322.0,1188.7 323.5,1187.9 325.0,1187.1 326.5,1186.2 328.0,1185.3 329.5,1184.3 331.0,1183.2 332.5,1182.1 334.0,1180.9 335.5,1179.7 337.0,1178.4 338.5,1177.0 340.0,1175.5 341.5,1173.8 343.0,1172.1 344.5,1170.4 346.0,1168.6 347.5,1166.8 349.0,1165.0 350.5,1163.3 352.0,1161.6 353.5,1159.8 355.0,1158.0 356.5,1156.1 358.0,1154.0 359.5,1151.7 361.0,1149.2 362.5,1146.4 364.0,1143.5 365.5,1140.4 367.0,1137.1 368.5,1133.7 370.0,1130.3 371.5,1126.6 373.0,1122.7 374.5,1118.5 376.0,1113.9 377.5,1108.9 379.0,1102.8 380.5,1095.8 382.0,1088.5 383.5,1081.7 385.0,1075.8 386.5,1070.5 388.0,1065.5 389.5,1060.6 391.0,1055.6 392.5,1050.3 394.0,1044.4 395.5,1037.7 397.0,1030.3 398.5,1022.5 400.0,1014.6 401.5,1006.7 403.0,998.9 404.5,990.8 406.0,982.4 407.5,973.5 409.0,963.7 410.5,953.4 412.0,943.4 413.5,934.2 415.0,925.8 416.5,917.6 418.0,909.4 419.5,900.6 421.0,890.8 422.5,879.6 424.0,866.4 425.5,851.6 427.0,835.8 428.5,819.4 430.0,803.2 431.5,787.3 433.0,771.3 434.5,755.1 436.0,738.7 437.5,722.1 439.0,705.0 440.5,687.6 442.0,669.7 443.5,651.2 445.0,632.5 446.5,613.6 448.0,594.5 449.5,575.1 451.0,555.3 452.5,535.1 454.0,514.4 455.5,493.0 457.0,471.0 458.5,448.1 460.0,424.5 461.5,399.8 463.0,374.2 464.5,347.2 466.0,318.5 467.5,288.1 469.0,256.2 470.5,223.0 472.0,188.4 473.5,152.7 475.0,116.0 476.5,78.4 478.0,40.0"/>
<path stroke="#45AF3D" d="M256.0,1195.9 260.0,1195.7 264.0,1195.6 268.0,1195.4 272.0,1195.1 276.0,1194.9 280.0,1194.6 284.0,1194.4 288.0,1194.0 292.0,1193.7 296.0,1193.4 300.0,1193.0 304.0,1192.6 308.0,1192.2 312.1,1191.8 316.1,1191.3 320.1,1190.8 324.1,1190.3 328.1,1189.8 332.1,1189.3 336.1,1188.8 340.1,1188.2 344.1,1187.6 348.1,1187.0 352.1,1186.4 356.1,1185.7 360.1,1185.1 364.1,1184.4 368.1,1183.7 372.1,1183.0 376.1,1182.2 380.1,1181.5 384.1,1180.7 388.1,1179.9 392.1,1179.1 396.1,1178.3 400.1,1177.5 404.1,1176.6 408.1,1175.7 412.1,1174.9 416.1,1174.0 420.2,1173.1 424.2,1172.1 428.2,1171.2 432.2,1170.2 436.2,1169.3 440.2,1168.3 444.2,1167.3 448.2,1166.3 452.2,1165.2 456.2,1164.2 460.2,1163.1 464.2,1162.1 468.2,1161.0 472.2,1159.9 476.2,1158.8 480.2,1157.7 484.2,1156.5 488.2,1155.4 492.2,1154.2 496.2,1153.1 500.2,1151.9 504.2,1150.7 508.2,1149.5 512.2,1148.3 516.2,1147.1 520.2,1145.9 524.2,1144.6 528.3,1143.4 532.3,1142.1 536.3,1140.8 540.3,1139.6 544.3,1138.3 548.3,1137.0 552.3,1135.7 556.3,1134.4 560.3,1133.0 564.3,1131.7 568.3,1130.4 572.3,1129.0 576.3,1127.7 580.3,1126.3 584.3,1124.9 588.3,1123.6 592.3,1122.2 596.3,1120.8 600.3,1119.4 604.3,1118.0 608.3,1116.6 612.3,1115.2 616.3,1113.8 620.3,1112.3 624.3,1110.9 628.3,1109.5 632.3,1108.0 636.4,1106.6 640.4,1105.1 644.4,1103.7 648.4,1102.2 652.4,1100.8 656.4,1099.3 660.4,1097.8 664.4,1096.4 668.4,1094.9 672.4,1093.4 676.4,1091.9 680.4,1090.5 684.4,1089.0 688.4,1087.5 692.4,1086.0 696.4,1084.5 700.4,1083.0 704.4,1081.6 708.4,1080.1 712.4,1078.6 716.4,1077.1 720.4,1075.6 724.4,1074.2 728.4,1072.7 732.4,1071.2 736.4,1069.8 740.5,1068.3 744.5,1066.8 748.5,1065.4 752.5,1063.9 756.5,1062.5 760.5,1061.0 764.5,1059.6 768.5,1058.1 772.5,1056.7 776.5,1055.3 780.5,1053.9 784.5,1052.5 788.5,1051.1 792.5,1049.7 796.5,1048.3 800.5,1046.9 804.5,1045.5 808.5,1044.2 812.5,1042.8 816.5,1041.5 820.5,1040.2 824.5,1038.8 828.5,1037.5 832.5,1036.2 836.5,1034.9 840.5,1033.6 844.5,1032.4 848.6,1031.1 852.6,1029.9 856.6,1028.6 860.6,1027.4 864.6,1026.2 868.6,1025.0 872.6,1023.9 876.6,1022.7 880.6,1021.5 884.6,1020.4 888.6,1019.3 892.6,1018.2 896.6,1017.1 900.6,1016.0 904.6,1015.0 908.6,1013.9 912.6,1012.9 916.6,1011.9 920.6,1010.9 924.6,1009.9 928.6,1009.0 932.6,1008.1 936.6,1007.2 940.6,1006.3 944.6,1005.4 948.6,1004.5 952.6,1003.7 956.7,1002.9 960.7,1002.1 964.7,1001.3 968.7,1000.6 972.7,999.9 976.7,999.2 980.7,998.5 984.7,997.8 988.7,997.2 992.7,996.6 996.7,996.0 1000.7,995.4 1004.7,994.9 1008.7,994.4 1012.7,993.9 1016.7,993.4 1020.7,993.0 1024.7,992.6 1028.7,992.2 1032.7,991.8 1036.7,991.5 1040.7,991.1 1044.7,990.8 1048.7,990.6 1052.7,990.3 1056.7,990.1 1060.7,989.9 1064.8,989.7 1068.8,989.5 1072.8,989.4 1076.8,989.2 1080.8,989.1 1084.8,989.1 1088.8,989.0 1092.8,989.0 1096.8,988.9 1100.8,988.9 1104.8,988.9 1108.8,989.0 1112.8,989.0 1116.8,989.1 1120.8,989.2 1124.8,989.3 1128.8,989.4 1132.8,989.5 1136.8,989.7 1140.8,989.9 1144.8,990.1 1148.8,990.3 1152.8,990.5 1156.8,990.7 1160.8,991.0 1164.8,991.2 1168.8,991.5 1172.9,991.8 1176.9,992.1 1180.9,992.5 1184.9,992.8 1188.9,993.1 1192.9,993.5 1196.9,993.9 1200.9,994.3 1204.9,994.7 1208.9,995.1 1212.9,995.5 1216.9,996.0 1220.9,996.4 1224.9,996.9 1228.9,997.4 1232.9,997.8 1236.9,998.3 1240.9,998.8 1244.9,999.3 1248.9,999.9 1252.9,1000.4 1256.9,1000.9 1260.9,1001.5 1264.9,1002.1 1268.9,1002.6 1272.9,1003.2 1276.9,1003.8 1281.0,1004.4 1285.0,1005.0 1289.0,1005.6 1293.0,1006.2 1297.0,1006.8 1301.0,1007.4 1305.0,1008.1 1309.0,1008.7 1313.0,1009.3 1317.0,1010.0 1321.0,1010.6 1325.0,1011.3 1329.0,1011.9 1333.0,1012.6 1337.0,1013.3 1341.0,1013.9 1345.0,1014.6 1349.0,1015.3 1353.0,1016.0 1357.0,1016.7 1361.0,1017.3 1365.0,1018.0 1369.0,1018.7 1373.0,1019.4 1377.0,1020.1 1381.0,1020.8 1385.0,1022.8 1389.1,1026.5 1393.1,1027.4 1397.1,1028.1 1401.1,1028.8 1405.1,1029.5 1409.1,1030.2 1413.1,1030.9 1417.1,1031.6 1421.1,1032.3 1425.1,1033.0 1429.1,1033.7 1433.1,1034.4 1437.1,1035.1 1441.1,1035.8 1445.1,1036.5 1449.1,1037.2 1453.1,1037.9 1457.1,1038.6 1461.1,1039.3 1465.1,1040.0 1469.1,1040.7 1473.1,1041.4 1477.1,1042.1 1481.1,1042.8 1485.1,1043.5 1489.1,1044.2 1493.2,1045.0 1497.2,1045.7 1501.2,1046.4 1505.2,1047.1 1509.2,1047.8 1513.2,1048.5 1517.2,1049.2 1521.2,1049.9 1525.2,1050.6 1529.2,1051.4 1533.2,1052.1 1537.2,1052.8 1541.2,1053.5 1545.2,1054.2 1549.2,1054.9 1553.2,1055.6 1557.2,1056.4 1561.2,1057.1 1565.2,1057.8 1569.2,1058.5 1573.2,1059.2 1577.2,1059.9 1581.2,1060.7 1585.2,1061.4 1589.2,1062.1 1593.2,1062.8 1597.2,1063.5 1601.3,1064.2 1605.3,1065.0 1609.3,1065.7 1613.3,1066.4 1617.3,1067.1 1621.3,1067.8 1625.3,1068.6 1629.3,1069.3 1633.3,1070.0 1637.3,1070.7 1641.3,1071.4 1645.3,1072.1 1649.3,1072.9 1653.3,1073.6 1657.3,1074.3 1661.3,1075.0 1665.3,1075.7 1669.3,1076.4 1673.3,1077.2 1677.3,1077.9 1681.3,1078.6 1685.3,1079.3 1689.3,1080.0 1693.3,1080.7 1697.3,1081.4 1701.3,1082.1 1705.3,1082.8 1709.4,1083.5 1713.4,1084.2 1717.4,1084.9 1721.4,1085.6 1725.4,1086.3 1729.4,1087.0 1733.4,1087.6 1737.4,1088.3 1741.4,1089.0 1745.4,1089.7 1749.4,1090.4 1753.4,1091.0 1757.4,1091.7 1761.4,1092.4 1765.4,1093.0 1769.4,1093.7 1773.4,1094.4 1777.4,1095.0 1781.4,1095.7 1785.4,1096.3 1789.4,1097.0 1793.4,1097.6 1797.4,1098.2 1801.4,1098.9 1805.4,1099.5 1809.4,1100.1 1813.4,1100.8 1817.5,1101.4 1821.5,1102.0 1825.5,1102.6 1829.5,1103.2 1833.5,1103.8 1837.5,1104.4 1841.5,1105.0 1845.5,1105.6 1849.5,1106.2 1853.5,1106.7 1857.5,1107.3 1861.5,1107.9 1865.5,1108.4 1869.5,1109.0"/>
</g>
<rect x="906.5" y="63.5" width="943" height="634" fill="url(#dith)" stroke="none"/><rect x="906.5" y="63.5" width="943" height="634" fill="none" stroke="#000" stroke-width="7" stroke-linejoin="round"/>
<g stroke-width="14" stroke-linecap="round">
<path stroke="#DD6519" d="M959,109.0 H1119"/>
<path stroke="#8A8A8A" d="M959,199.5 H1119"/>
<path stroke="#E5A000" d="M959,290.0 H1119"/>
<path stroke="#1059A3" d="M959,380.5 H1119"/>
<path stroke="#368C2F" d="M959,471.0 H1119"/>
<path stroke="#FFC000" d="M959,561.5 H1119"/>
<path stroke="#45AF3D" d="M959,652.0 H1119"/>
</g>
<g font-size="58.6" fill="#000">
<text x="1137" y="127.5">Variance</text>
<text x="1137" y="218.0">Squared Gradient</text>
<text x="1137" y="308.5">Brenner Gradient</text>
<text x="1137" y="399.0">Tenenbaum Gradient</text>
<text x="1137" y="489.5">Energy Laplacian</text>
<text x="1137" y="580.0">Thresholded Pixel Count</text>
<text x="1137" y="670.5">Derivative-based correlation</text>
</g>
<text font-size="77" x="983.9" y="1429.9" text-anchor="middle">(<tspan font-weight="bold">a</tspan>)</text>
<g stroke="#000" stroke-width="5" fill="none">
<path d="M294.5,1522 V2661.5"/>
<path stroke-width="7" d="M292,2658.5 H1804"/>
<path d="M294.5,2496.1 H312"/>
<path d="M294.5,2334.1 H312"/>
<path d="M294.5,2172.2 H312"/>
<path d="M294.5,2010.3 H312"/>
<path d="M294.5,1848.3 H312"/>
<path d="M294.5,1686.4 H312"/>
<path d="M294.5,1524.5 H312"/>
<path stroke-width="7" d="M596.3,2658.5 V2641"/>
<path stroke-width="7" d="M898.1,2658.5 V2641"/>
<path stroke-width="7" d="M1199.9,2658.5 V2641"/>
<path stroke-width="7" d="M1501.7,2658.5 V2641"/>
<path stroke-width="7" d="M1803.5,2658.5 V2641"/>
</g>
<g font-size="58.8" fill="#000" text-anchor="end">
<text x="245" y="2675.2">0</text>
<text x="245" y="2513.3">5,000</text>
<text x="245" y="2351.3">10,000</text>
<text x="245" y="2189.4">15,000</text>
<text x="245" y="2027.5">20,000</text>
<text x="245" y="1865.5">25,000</text>
<text x="245" y="1703.6">30,000</text>
<text x="245" y="1541.7">35,000</text>
</g>
<g font-size="60.5" fill="#000" text-anchor="middle">
<text x="294.5" y="2745">0</text>
<text x="596.3" y="2745">20</text>
<text x="898.1" y="2745">40</text>
<text x="1199.9" y="2745">60</text>
<text x="1501.7" y="2745">80</text>
<text x="1803.5" y="2745">100</text>
</g>
<text font-size="58.9" transform="translate(380.5,1684.8) rotate(-90)" text-anchor="middle">index value</text>
<text font-size="59.3" x="1634" y="2626.8">level (%)</text>
<g clip-path="url(#cb)" fill="none" stroke-width="9" stroke-linecap="round" stroke-linejoin="round">
<path stroke="#E00000" d="M294.5,2656.3 300.4,2655.6 306.3,2654.3 312.2,2652.5 318.1,2651.1 324.0,2649.4 329.9,2648.0 335.8,2645.9 341.7,2644.1 347.6,2641.0 353.4,2639.9 359.3,2636.8 365.2,2634.5 371.1,2631.3 377.0,2628.3 382.9,2625.5 388.8,2622.4 394.7,2618.5 400.6,2614.9 406.5,2611.4 412.4,2606.7 418.3,2602.2 424.2,2598.8 430.1,2593.7 436.0,2588.3 441.9,2584.0 447.8,2579.1 453.7,2573.3 459.5,2567.6 465.4,2562.8 471.3,2557.4 477.2,2550.6 483.1,2544.0 489.0,2538.1 494.9,2531.6 500.8,2523.9 506.7,2517.3 512.6,2510.2 518.5,2501.7 524.4,2493.3 530.3,2486.0 536.2,2477.6 542.1,2469.7 548.0,2459.0 553.9,2450.5 559.8,2441.1 565.6,2430.9 571.5,2422.7 577.4,2413.2 583.3,2402.1 589.2,2393.7 595.1,2382.9 601.0,2372.2 606.9,2361.3 612.8,2351.0 618.7,2337.9 624.6,2328.8 630.5,2317.7 636.4,2304.4 642.3,2295.4 648.2,2283.8 654.1,2273.8 660.0,2261.6 665.9,2251.2 671.8,2240.7 677.6,2228.5 683.5,2219.2 689.4,2207.4 695.3,2197.0 701.2,2184.6 707.1,2174.9 713.0,2162.6 718.9,2149.8 724.8,2138.4 730.7,2126.6 736.6,2114.5 742.5,2097.9 748.4,2088.2 754.3,2075.2 760.2,2062.2 766.1,2049.0 772.0,2039.7 777.9,2024.8 783.7,2015.3 789.6,2004.6 795.5,1989.5 801.4,1979.7 807.3,1967.1 813.2,1957.9 819.1,1948.4 825.0,1938.0 830.9,1922.0 836.8,1912.7 842.7,1903.5 848.6,1893.8 854.5,1881.4 860.4,1869.0 866.3,1859.7 872.2,1848.5 878.1,1837.5 884.0,1826.1 889.8,1817.1 895.7,1806.7 901.6,1796.0 907.5,1785.9 913.4,1774.8 919.3,1766.6 925.2,1760.1 931.1,1749.5 937.0,1739.4 942.9,1735.5 948.8,1726.7 954.7,1721.6 960.6,1711.5 966.5,1703.9 972.4,1695.8 978.3,1693.4 984.2,1689.0 990.1,1678.0 995.9,1672.4 1001.8,1668.6 1007.7,1661.0 1013.6,1656.6 1019.5,1651.5 1025.4,1647.6 1031.3,1644.6 1037.2,1638.8 1043.1,1636.2 1049.0,1630.5 1054.9,1628.3 1060.8,1621.4 1066.7,1619.6 1072.6,1620.3 1078.5,1615.8 1084.4,1615.4 1090.3,1613.5 1096.2,1613.0 1102.1,1610.7 1107.9,1609.8 1113.8,1607.1 1119.7,1605.4 1125.6,1604.7 1131.5,1604.7 1137.4,1603.6 1143.3,1604.5 1149.2,1605.5 1155.1,1606.4 1161.0,1606.2 1166.9,1604.6 1172.8,1608.4 1178.7,1610.1 1184.6,1612.8 1190.5,1613.5 1196.4,1613.4 1202.3,1615.2 1208.2,1621.4 1214.0,1621.7 1219.9,1625.7 1225.8,1628.7 1231.7,1626.9 1237.6,1631.6 1243.5,1634.7 1249.4,1637.9 1255.3,1641.2 1261.2,1644.0 1267.1,1647.5 1273.0,1648.7 1278.9,1654.4 1284.8,1657.5 1290.7,1662.8 1296.6,1666.0 1302.5,1671.8 1308.4,1676.5 1314.3,1680.1 1320.1,1684.7 1326.0,1688.9 1331.9,1692.9 1337.8,1698.1 1343.7,1702.4 1349.6,1708.7 1355.5,1713.1 1361.4,1719.0 1367.3,1721.4 1373.2,1729.8 1379.1,1732.6 1385.0,1738.0 1390.9,1744.1 1396.8,1749.0 1402.7,1755.6 1408.6,1759.8 1414.5,1764.6 1420.4,1770.5 1426.2,1779.1 1432.1,1782.8 1438.0,1786.7 1443.9,1794.0 1449.8,1797.4 1455.7,1807.7 1461.6,1808.7 1467.5,1817.0 1473.4,1822.7 1479.3,1825.6 1485.2,1833.6 1491.1,1840.1 1497.0,1845.0 1502.9,1850.3 1508.8,1856.8 1514.7,1861.3 1520.6,1867.1 1526.5,1872.0 1532.4,1878.6 1538.2,1882.0 1544.1,1889.9 1550.0,1893.8 1555.9,1898.5 1561.8,1906.0 1567.7,1913.3 1573.6,1917.9 1579.5,1921.6 1585.4,1928.7 1591.3,1932.8 1597.2,1938.8 1603.1,1944.6 1609.0,1947.1 1614.9,1955.9 1620.8,1959.9 1626.7,1965.9 1632.6,1970.6 1638.5,1976.1 1644.3,1982.5 1650.2,1990.3 1656.1,1997.0 1662.0,2000.5 1667.9,2007.5 1673.8,2011.5 1679.7,2015.1 1685.6,2023.3 1691.5,2029.3 1697.4,2034.0 1703.3,2040.6 1709.2,2046.6 1715.1,2050.6 1721.0,2055.6 1726.9,2062.8 1732.8,2068.6 1738.7,2074.2 1744.6,2081.6 1750.4,2088.2 1756.3,2091.5 1762.2,2098.7 1768.1,2104.8 1774.0,2110.4 1779.9,2116.6 1785.8,2120.9 1791.7,2128.1 1797.6,2135.5 1803.5,2140.0"/>
<path stroke="#00B050" d="M294.5,2658.0 295.5,2634.8 301.4,2633.3 307.3,2630.9 313.2,2628.5 319.1,2626.1 325.0,2621.9 330.8,2618.9 336.7,2615.1 342.6,2612.0 348.5,2608.7 354.4,2604.1 360.3,2600.2 366.2,2594.5 372.1,2591.1 378.0,2585.8 383.9,2582.5 389.8,2577.1 395.6,2572.1 401.5,2566.4 407.4,2561.6 413.3,2556.4 419.2,2550.4 425.1,2544.8 431.0,2539.5 436.9,2533.5 442.8,2527.7 448.7,2522.0 454.5,2515.7 460.4,2510.6 466.3,2502.6 472.2,2497.9 478.1,2490.3 484.0,2483.6 489.9,2476.1 495.8,2469.9 501.7,2462.6 507.6,2455.5 513.5,2447.4 519.3,2440.2 525.2,2433.7 531.1,2424.6 537.0,2415.6 542.9,2408.6 548.8,2399.4 554.7,2391.5 560.6,2383.0 566.5,2373.4 572.4,2363.3 578.2,2355.9 584.1,2347.8 590.0,2338.0 595.9,2329.7 601.8,2321.2 607.7,2310.6 613.6,2303.2 619.5,2294.4 625.4,2284.7 631.3,2275.7 637.2,2266.4 643.0,2258.4 648.9,2247.1 654.8,2237.7 660.7,2229.1 666.6,2218.1 672.5,2208.0 678.4,2199.2 684.3,2190.9 690.2,2181.2 696.1,2169.1 702.0,2158.6 707.8,2150.1 713.7,2139.7 719.6,2129.3 725.5,2119.5 731.4,2109.5 737.3,2097.8 743.2,2087.9 749.1,2075.8 755.0,2065.8 760.9,2057.7 766.8,2048.7 772.6,2039.3 778.5,2029.7 784.4,2020.6 790.3,2011.3 796.2,1998.7 802.1,1990.6 808.0,1982.7 813.9,1973.3 819.8,1961.0 825.7,1954.7 831.5,1943.0 837.4,1933.7 843.3,1924.8 849.2,1916.1 855.1,1904.0 861.0,1898.2 866.9,1888.2 872.8,1878.7 878.7,1871.2 884.6,1860.9 890.5,1855.6 896.3,1849.7 902.2,1841.6 908.1,1835.5 914.0,1829.1 919.9,1822.9 925.8,1817.7 931.7,1809.6 937.6,1802.6 943.5,1797.1 949.4,1792.5 955.2,1782.5 961.1,1777.2 967.0,1768.0 972.9,1766.1 978.8,1759.3 984.7,1754.8 990.6,1747.6 996.5,1741.4 1002.4,1739.7 1008.3,1735.3 1014.2,1729.1 1020.0,1724.6 1025.9,1724.0 1031.8,1719.9 1037.7,1720.9 1043.6,1713.2 1049.5,1710.5 1055.4,1708.4 1061.3,1703.6 1067.2,1702.3 1073.1,1703.7 1079.0,1699.0 1084.8,1696.3 1090.7,1693.4 1096.6,1694.4 1102.5,1693.0 1108.4,1690.9 1114.3,1688.7 1120.2,1688.6 1126.1,1687.7 1132.0,1685.4 1137.9,1686.6 1143.8,1682.1 1149.6,1683.0 1155.5,1684.3 1161.4,1684.6 1167.3,1683.2 1173.2,1685.8 1179.1,1687.3 1185.0,1687.1 1190.9,1687.6 1196.8,1689.4 1202.7,1689.9 1208.5,1688.9 1214.4,1691.7 1220.3,1695.5 1226.2,1693.6 1232.1,1697.2 1238.0,1698.5 1243.9,1699.8 1249.8,1701.9 1255.7,1705.9 1261.6,1708.7 1267.5,1711.3 1273.3,1711.5 1279.2,1716.0 1285.1,1719.9 1291.0,1723.8 1296.9,1726.6 1302.8,1730.1 1308.7,1733.8 1314.6,1736.8 1320.5,1738.0 1326.4,1742.8 1332.2,1745.4 1338.1,1746.7 1344.0,1751.5 1349.9,1760.8 1355.8,1760.1 1361.7,1762.4 1367.6,1768.8 1373.5,1775.8 1379.4,1777.6 1385.3,1782.3 1391.2,1785.5 1397.0,1789.8 1402.9,1795.9 1408.8,1799.4 1414.7,1802.4 1420.6,1808.0 1426.5,1812.6 1432.4,1815.1 1438.3,1820.2 1444.2,1824.6 1450.1,1827.8 1456.0,1834.8 1461.8,1837.5 1467.7,1841.5 1473.6,1844.7 1479.5,1850.0 1485.4,1858.6 1491.3,1859.7 1497.2,1866.7 1503.1,1870.5 1509.0,1876.6 1514.9,1881.7 1520.8,1884.8 1526.6,1890.4 1532.5,1896.0 1538.4,1901.0 1544.3,1905.9 1550.2,1910.6 1556.1,1916.9 1562.0,1922.9 1567.9,1926.9 1573.8,1930.4 1579.7,1936.9 1585.5,1941.6 1591.4,1947.2 1597.3,1954.0 1603.2,1956.4 1609.1,1961.7 1615.0,1965.7 1620.9,1971.4 1626.8,1976.0 1632.7,1983.7 1638.6,1987.0 1644.5,1990.8 1650.3,1998.8 1656.2,1999.5 1662.1,2007.0 1668.0,2012.0 1673.9,2016.1 1679.8,2019.7 1685.7,2024.4 1691.6,2028.7 1697.5,2034.5 1703.4,2035.1 1709.2,2041.7 1715.1,2046.7 1721.0,2050.0 1726.9,2052.7 1732.8,2058.6 1738.7,2061.9 1744.6,2067.7 1750.5,2072.2 1756.4,2074.3 1762.3,2075.5 1768.2,2081.1 1774.0,2083.7 1779.9,2088.9 1785.8,2093.3 1791.7,2094.8 1797.6,2099.8 1803.5,2102.0"/>
<path stroke="#0070C0" d="M294.5,2658.0 295.5,2635.9 301.4,2629.8 307.3,2626.5 313.2,2621.1 319.1,2616.6 325.0,2610.9 330.8,2606.3 336.7,2599.9 342.6,2594.0 348.5,2588.7 354.4,2582.6 360.3,2575.9 366.2,2569.5 372.1,2563.4 378.0,2556.4 383.9,2548.4 389.8,2540.9 395.6,2532.1 401.5,2526.2 407.4,2516.4 413.3,2508.7 419.2,2498.8 425.1,2490.3 431.0,2480.0 436.9,2468.8 442.8,2459.0 448.7,2446.1 454.5,2436.5 460.4,2422.7 466.3,2412.3 472.2,2400.7 478.1,2387.6 484.0,2374.4 489.9,2361.1 495.8,2348.4 501.7,2336.4 507.6,2322.7 513.5,2307.9 519.3,2293.1 525.2,2281.0 531.1,2264.8 537.0,2251.5 542.9,2237.0 548.8,2224.2 554.7,2209.4 560.6,2195.4 566.5,2181.0 572.4,2165.5 578.2,2152.2 584.1,2138.0 590.0,2120.7 595.9,2105.6 601.8,2088.8 607.7,2074.3 613.6,2058.1 619.5,2042.6 625.4,2026.4 631.3,2012.4 637.2,1994.5 643.0,1979.2 648.9,1963.7 654.8,1950.2 660.7,1933.7 666.6,1919.0 672.5,1906.4 678.4,1892.8 684.3,1878.0 690.2,1859.9 696.1,1848.9 702.0,1835.6 707.8,1822.7 713.7,1811.4 719.6,1802.5 725.5,1787.8 731.4,1776.0 737.3,1767.2 743.2,1755.8 749.1,1745.9 755.0,1735.1 760.9,1726.8 766.8,1718.6 772.6,1706.8 778.5,1699.2 784.4,1695.6 790.3,1688.0 796.2,1679.3 802.1,1672.2 808.0,1667.4 813.9,1660.4 819.8,1656.6 825.7,1654.9 831.5,1648.3 837.4,1646.0 843.3,1640.5 849.2,1638.4 855.1,1637.3 861.0,1631.0 866.9,1630.8 872.8,1629.8 878.7,1629.5 884.6,1631.0 890.5,1629.6 896.3,1626.6 902.2,1629.2 908.1,1629.3 914.0,1630.6 919.9,1636.8 925.8,1634.2 931.7,1638.6 937.6,1639.8 943.5,1645.2 949.4,1647.7 955.2,1650.9 961.1,1654.3 967.0,1660.1 972.9,1661.3 978.8,1666.1 984.7,1670.1 990.6,1678.6 996.5,1681.2 1002.4,1685.3 1008.3,1691.6 1014.2,1701.4 1020.0,1703.3 1025.9,1710.5 1031.8,1715.9 1037.7,1721.3 1043.6,1726.5 1049.5,1733.3 1055.4,1739.7 1061.3,1743.5 1067.2,1756.9 1073.1,1761.2 1079.0,1766.7 1084.8,1773.1 1090.7,1779.1 1096.6,1788.4 1102.5,1793.7 1108.4,1801.5 1114.3,1805.8 1120.2,1815.3 1126.1,1824.5 1132.0,1828.3 1137.9,1836.8 1143.8,1842.7 1149.6,1851.2 1155.5,1858.2 1161.4,1863.8 1167.3,1870.0 1173.2,1878.2 1179.1,1884.9 1185.0,1891.1 1190.9,1899.6 1196.8,1906.6 1202.7,1911.9 1208.5,1919.9 1214.4,1930.9 1220.3,1935.2 1226.2,1941.2 1232.1,1951.3 1238.0,1954.5 1243.9,1958.9 1249.8,1966.5 1255.7,1974.0 1261.6,1983.1 1267.5,1990.9 1273.3,1993.8 1279.2,2004.8 1285.1,2008.7 1291.0,2017.3 1296.9,2024.3 1302.8,2031.0 1308.7,2037.1 1314.6,2044.0 1320.5,2049.0 1326.4,2057.3 1332.2,2064.7 1338.1,2071.1 1344.0,2079.6 1349.9,2088.0 1355.8,2098.1 1361.7,2105.5 1367.6,2110.1 1373.5,2114.5 1379.4,2119.6 1385.3,2129.7 1391.2,2134.9 1397.0,2141.2 1402.9,2145.8 1408.8,2152.4 1414.7,2159.8 1420.6,2163.8 1426.5,2167.9 1432.4,2174.2 1438.3,2181.7 1444.2,2184.4 1450.1,2188.2 1456.0,2193.8 1461.8,2200.1 1467.7,2207.6 1473.6,2211.9 1479.5,2216.1 1485.4,2220.5 1491.3,2226.7 1497.2,2231.6 1503.1,2236.0 1509.0,2241.1 1514.9,2245.3 1520.8,2252.6 1526.6,2252.9 1532.5,2260.0 1538.4,2263.3 1544.3,2269.5 1550.2,2273.0 1556.1,2277.9 1562.0,2282.4 1567.9,2286.3 1573.8,2291.3 1579.7,2293.1 1585.5,2299.5 1591.4,2302.4 1597.3,2307.0 1603.2,2312.1 1609.1,2315.6 1615.0,2320.3 1620.9,2320.1 1626.8,2325.1 1632.7,2330.7 1638.6,2332.4 1644.5,2337.0 1650.3,2342.4 1656.2,2345.2 1662.1,2347.1 1668.0,2351.9 1673.9,2355.6 1679.8,2358.6 1685.7,2361.8 1691.6,2365.4 1697.5,2367.3 1703.4,2372.1 1709.2,2374.5 1715.1,2378.9 1721.0,2382.2 1726.9,2384.3 1732.8,2388.8 1738.7,2391.7 1744.6,2394.5 1750.5,2398.3 1756.4,2400.5 1762.3,2403.6 1768.2,2406.9 1774.0,2409.9 1779.9,2413.9 1785.8,2413.9 1791.7,2418.6 1797.6,2420.1 1803.5,2424.3"/>
<path stroke="#808080" d="M294.5,2658.0 295.5,2636.1 301.4,2634.4 307.3,2632.2 313.2,2628.9 319.1,2626.7 325.0,2623.6 330.8,2618.8 336.7,2614.5 342.6,2609.9 348.5,2604.0 354.4,2600.7 360.3,2593.7 366.2,2589.3 372.1,2585.4 378.0,2578.6 383.9,2573.4 389.8,2567.6 395.6,2562.7 401.5,2555.6 407.4,2550.8 413.3,2546.5 419.2,2539.6 425.1,2533.3 431.0,2527.5 436.9,2521.1 442.8,2514.4 448.7,2508.0 454.5,2499.5 460.4,2493.9 466.3,2485.7 472.2,2479.3 478.1,2471.1 484.0,2462.5 489.9,2455.3 495.8,2446.5 501.7,2439.9 507.6,2430.7 513.5,2422.9 519.3,2412.7 525.2,2406.4 531.1,2396.0 537.0,2388.6 542.9,2379.3 548.8,2368.6 554.7,2360.9 560.6,2351.0 566.5,2342.8 572.4,2334.6 578.2,2324.8 584.1,2316.0 590.0,2304.7 595.9,2296.8 601.8,2287.8 607.7,2279.4 613.6,2268.6 619.5,2260.8 625.4,2251.6 631.3,2240.6 637.2,2232.1 643.0,2224.6 648.9,2213.8 654.8,2204.6 660.7,2197.7 666.6,2187.8 672.5,2177.9 678.4,2168.8 684.3,2158.6 690.2,2148.7 696.1,2138.9 702.0,2129.9 707.8,2121.1 713.7,2109.1 719.6,2099.9 725.5,2090.2 731.4,2079.7 737.3,2072.5 743.2,2064.6 749.1,2054.1 755.0,2048.0 760.9,2038.4 766.8,2032.9 772.6,2025.5 778.5,2016.4 784.4,2007.4 790.3,2002.6 796.2,1994.7 802.1,1988.4 808.0,1983.4 813.9,1979.3 819.8,1971.5 825.7,1965.5 831.5,1957.7 837.4,1953.7 843.3,1947.2 849.2,1944.3 855.1,1937.7 861.0,1933.2 866.9,1928.2 872.8,1923.2 878.7,1920.0 884.6,1914.9 890.5,1909.6 896.3,1906.1 902.2,1902.8 908.1,1900.2 914.0,1895.2 919.9,1893.7 925.8,1887.9 931.7,1885.6 937.6,1881.3 943.5,1882.0 949.4,1877.3 955.2,1875.2 961.1,1875.9 967.0,1872.4 972.9,1870.7 978.8,1871.7 984.7,1869.1 990.6,1869.6 996.5,1867.1 1002.4,1868.0 1008.3,1868.1 1014.2,1866.5 1020.0,1868.7 1025.9,1865.8 1031.8,1866.3 1037.7,1867.1 1043.6,1868.8 1049.5,1867.7 1055.4,1868.3 1061.3,1870.2 1067.2,1872.6 1073.1,1871.6 1079.0,1871.8 1084.8,1874.8 1090.7,1877.4 1096.6,1877.5 1102.5,1880.2 1108.4,1879.5 1114.3,1884.0 1120.2,1886.3 1126.1,1889.2 1132.0,1891.1 1137.9,1894.2 1143.8,1894.4 1149.6,1899.2 1155.5,1898.8 1161.4,1903.0 1167.3,1908.2 1173.2,1910.8 1179.1,1910.2 1185.0,1916.5 1190.9,1918.3 1196.8,1921.1 1202.7,1925.7 1208.5,1928.9 1214.4,1934.0 1220.3,1933.7 1226.2,1938.5 1232.1,1942.5 1238.0,1943.9 1243.9,1951.4 1249.8,1955.8 1255.7,1956.4 1261.6,1961.4 1267.5,1964.3 1273.3,1968.8 1279.2,1971.3 1285.1,1977.1 1291.0,1978.3 1296.9,1985.4 1302.8,1987.9 1308.7,1994.4 1314.6,1993.1 1320.5,1998.9 1326.4,2001.2 1332.2,2006.4 1338.1,2011.0 1344.0,2013.1 1349.9,2016.3 1355.8,2019.8 1361.7,2026.1 1367.6,2031.3 1373.5,2035.1 1379.4,2037.6 1385.3,2040.4 1391.2,2045.1 1397.0,2047.8 1402.9,2051.8 1408.8,2059.1 1414.7,2061.7 1420.6,2066.7 1426.5,2070.3 1432.4,2076.6 1438.3,2081.1 1444.2,2082.9 1450.1,2087.9 1456.0,2092.1 1461.8,2099.0 1467.7,2103.6 1473.6,2106.5 1479.5,2114.2 1485.4,2116.2 1491.3,2119.5 1497.2,2123.2 1503.1,2130.0 1509.0,2135.0 1514.9,2138.5 1520.8,2143.9 1526.6,2149.1 1532.5,2151.9 1538.4,2157.0 1544.3,2161.9 1550.2,2164.6 1556.1,2167.2 1562.0,2172.2 1567.9,2176.0 1573.8,2181.4 1579.7,2182.2 1585.5,2184.6 1591.4,2190.1 1597.3,2193.6 1603.2,2196.2 1609.1,2200.6 1615.0,2203.6 1620.9,2207.8 1626.8,2208.9 1632.7,2212.2 1638.6,2216.1 1644.5,2218.7 1650.3,2223.7 1656.2,2226.1 1662.1,2228.5 1668.0,2233.2 1673.9,2235.1 1679.8,2238.7 1685.7,2241.5 1691.6,2243.5 1697.5,2246.6 1703.4,2249.7 1709.2,2251.6 1715.1,2255.4 1721.0,2259.7 1726.9,2262.2 1732.8,2264.0 1738.7,2270.4 1744.6,2270.1 1750.5,2274.9 1756.4,2278.1 1762.3,2281.9 1768.2,2283.0 1774.0,2287.1 1779.9,2290.2 1785.8,2294.9 1791.7,2297.5 1797.6,2301.0 1803.5,2304.6"/>
</g>
<rect x="829.5" y="2268.5" width="531.7" height="326.6" fill="#fff" stroke="#000" stroke-width="9" stroke-linejoin="round"/>
<g stroke-width="9" stroke-linecap="round">
<path stroke="#E00000" d="M950.5,2309.4 H1110"/>
<path stroke="#00B050" d="M950.5,2391.3 H1110"/>
<path stroke="#0070C0" d="M950.5,2473.2 H1110"/>
<path stroke="#808080" d="M950.5,2555.1 H1110"/>
</g>
<g font-size="60" fill="#000">
<text x="1126" y="2328.9">Red</text>
<text x="1126" y="2410.8">Green</text>
<text x="1126" y="2492.7">Blue</text>
<text x="1126" y="2574.6">White</text>
</g>
<text font-size="77" x="983.9" y="2890.1" text-anchor="middle">(<tspan font-weight="bold">b</tspan>)</text>
</svg></body></html>
